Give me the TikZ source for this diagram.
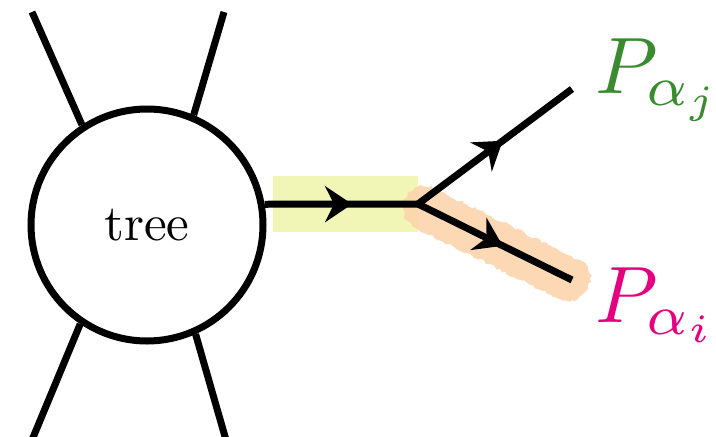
\documentclass[tikz,border=0pt]{standalone}
\usetikzlibrary{arrows.meta,decorations.markings,decorations.pathmorphing}
\definecolor{hlyellow}{RGB}{241,245,182}
\definecolor{hlpeach}{RGB}{252,213,172}
\definecolor{lblgreen}{RGB}{58,138,48}
\definecolor{lblpink}{RGB}{230,0,128}
\tikzset{
  wire/.style={line width=7pt},
  fermion/.style={wire,postaction={decorate},
    decoration={markings,mark=at position #1 with {\arrow{Stealth[length=27pt,width=36pt,inset=9pt]}}}},
  blob/.style={circle,draw,line width=7pt,minimum size=232pt,inner sep=0pt},
  lbl/.style={anchor=base west,inner sep=0pt},
}
\begin{document}
\begin{tikzpicture}[x=1pt,y=-1pt]
  \useasboundingbox (0,0) rectangle (716,437);

  % highlighter marks
  \fill[hlyellow] (273,176) rectangle (418,232);
  \begin{scope}[shift={(425,208)},rotate=-26.4]
    \fill[hlpeach,opacity=0.9,decorate,
          decoration={random steps,segment length=3pt,amplitude=1.6pt}]
      (0pt,22pt) -- (160pt,22pt) arc[start angle=90,end angle=-90,radius=22pt]
      -- (0pt,-22pt) arc[start angle=270,end angle=90,radius=22pt] -- cycle;
  \end{scope}

  % the tree blob
  \node[blob] (tree) at (147,225) {\scalebox{5.1}{tree}};

  % external legs of the blob
  \coordinate (tl) at (32,12);
  \coordinate (tr) at (224,12);
  \coordinate (bl) at (32,440);
  \coordinate (br) at (226,440);
  \draw[wire] (tl) -- (tree.123.6);
  \draw[wire] (tr) -- (tree.67.7);
  \draw[wire] (bl) -- (tree.236.7);
  \draw[wire] (br) -- (tree.294.2);

  % splitting line
  \coordinate (v) at (418,204);
  \coordinate (ej) at (572,89);
  \coordinate (ei) at (572,280);
  \draw[fermion=0.57] (tree.10.4) -- (v);
  \draw[fermion=0.55,line cap=butt] (v) -- (ej);
  \draw[fermion=0.55] (v) -- (ei);

  % labels
  \node[lbl,text=lblgreen] (pj) at (595,93) {\scalebox{8}{$P_{\alpha_j}$}};
  \node[lbl,text=lblpink] (pi) at (595,322) {\scalebox{8}{$P_{\alpha_i}$}};
\end{tikzpicture}
\end{document}
